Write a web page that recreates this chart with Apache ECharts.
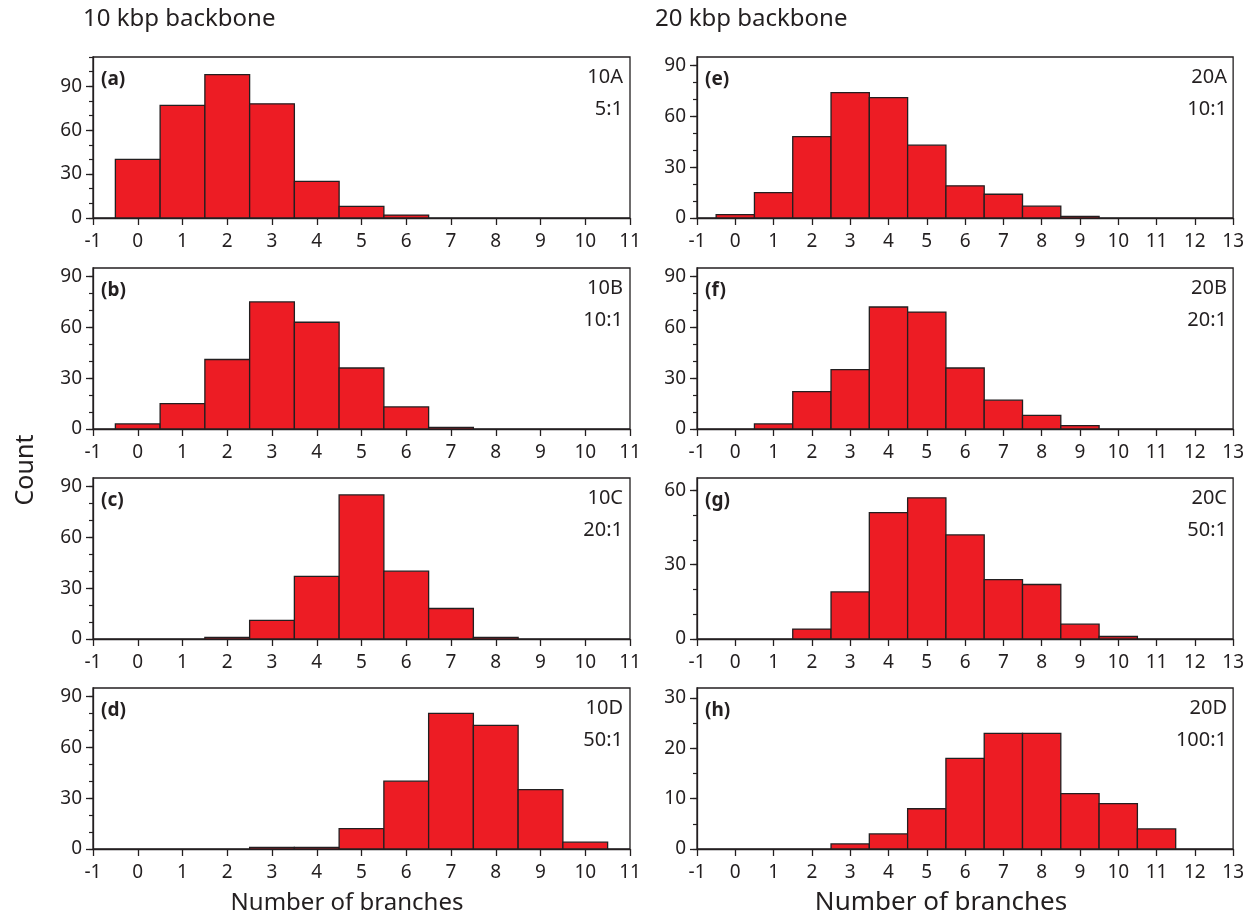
<!DOCTYPE html>
<html>
<head>
<meta charset="utf-8">
<title>Branch number distributions</title>
<script src="https://cdn.jsdelivr.net/npm/echarts@6/dist/echarts.min.js"></script>
<style>
  html, body { margin: 0; padding: 0; background: #fff; }
  #chart { width: 1247px; height: 919px; }
</style>
</head>
<body>
<div id="chart"></div>
<script>
// Branch counts per bin (number of branches), one array per construct.
const branches10 = [0, 1, 2, 3, 4, 5, 6, 7, 8, 9, 10];
const branches20 = [0, 1, 2, 3, 4, 5, 6, 7, 8, 9, 10, 11, 12];

const count10A = [40, 77, 98, 78, 25, 8, 2, 0, 0, 0, 0];
const count10B = [3, 15, 41, 75, 63, 36, 13, 1, 0, 0, 0];
const count10C = [0, 0, 1, 11, 37, 85, 40, 18, 1, 0, 0];
const count10D = [0, 0, 0, 1, 1, 12, 40, 80, 73, 35, 4];

const count20A = [2, 15, 48, 74, 71, 43, 19, 14, 7, 1, 0, 0, 0];
const count20B = [0, 3, 22, 35, 72, 69, 36, 17, 8, 2, 0, 0, 0];
const count20C = [0, 0, 4, 19, 51, 57, 42, 24, 22, 6, 1, 0, 0];
const count20D = [0, 0, 0, 1, 3, 8, 18, 23, 23, 11, 9, 4, 0];

// Tick labels
const xTicks10 = [-1, 0, 1, 2, 3, 4, 5, 6, 7, 8, 9, 10, 11];
const xTicks20 = [-1, 0, 1, 2, 3, 4, 5, 6, 7, 8, 9, 10, 11, 12, 13];
const yTicks90 = [0, 30, 60, 90];
const yTicks60 = [0, 30, 60];
const yTicks30 = [0, 10, 20, 30];

// Panel text
const panelLetters = ['(a)', '(b)', '(c)', '(d)', '(e)', '(f)', '(g)', '(h)'];
const panelNames = ['10A', '10B', '10C', '10D', '20A', '20B', '20C', '20D'];
const panelRatios = ['5:1', '10:1', '20:1', '50:1', '10:1', '20:1', '50:1', '100:1'];
const columnTitles = ['10 kbp backbone', '20 kbp backbone'];
const xAxisTitle = 'Number of branches';
const yAxisTitle = 'Count';

// ---- layout and styling ----
const FONT = '"Noto Sans", "Open Sans", sans-serif';
const INK = '#231f20';
const RED = '#ed1c24';

const colLeft = [93, 697];
const colWidth = 537;
const rowTop = [57, 268, 478, 688];
const rowHeight = 161;

const panels = [
  { col: 0, row: 0, b: branches10, c: count10A, xt: xTicks10, yMax: 110, major: yTicks90, minor: 10 },
  { col: 0, row: 1, b: branches10, c: count10B, xt: xTicks10, yMax: 95, major: yTicks90, minor: 10 },
  { col: 0, row: 2, b: branches10, c: count10C, xt: xTicks10, yMax: 95, major: yTicks90, minor: 10 },
  { col: 0, row: 3, b: branches10, c: count10D, xt: xTicks10, yMax: 95, major: yTicks90, minor: 10 },
  { col: 1, row: 0, b: branches20, c: count20A, xt: xTicks20, yMax: 95, major: yTicks90, minor: 10 },
  { col: 1, row: 1, b: branches20, c: count20B, xt: xTicks20, yMax: 95, major: yTicks90, minor: 10 },
  { col: 1, row: 2, b: branches20, c: count20C, xt: xTicks20, yMax: 65, major: yTicks60, minor: 10 },
  { col: 1, row: 3, b: branches20, c: count20D, xt: xTicks20, yMax: 32, major: yTicks30, minor: 5 }
];

const grid = [], xAxis = [], yAxis = [], series = [], graphic = [];

panels.forEach((p, i) => {
  const left = colLeft[p.col];
  const top = rowTop[p.row];
  grid.push({
    left: left, top: top, width: colWidth, height: rowHeight,
    show: true, borderColor: INK, borderWidth: 1.3, backgroundColor: 'transparent'
  });

  xAxis.push({
    type: 'value', gridIndex: i,
    min: p.xt[0], max: p.xt[p.xt.length - 1], interval: 1,
    axisLine: { show: true, onZero: false, lineStyle: { color: INK, width: 1.3 } },
    axisTick: { show: true, length: 7, lineStyle: { color: INK, width: 1.3 } },
    axisLabel: { color: INK, fontFamily: FONT, fontSize: 19, margin: 14,
                 showMinLabel: true, showMaxLabel: true },
    splitLine: { show: false }
  });

  // minor ticks
  const minorVals = [];
  for (let v = 0; v <= p.yMax; v += p.minor) minorVals.push(v);
  yAxis.push({
    type: 'value', gridIndex: i, position: 'left',
    min: 0, max: p.yMax,
    axisLine: { show: true, onZero: false, lineStyle: { color: INK, width: 1.3 } },
    axisTick: { show: true, length: 4, customValues: minorVals, lineStyle: { color: INK, width: 1.2 } },
    axisLabel: { color: INK, fontFamily: FONT, fontSize: 19, margin: 11, customValues: p.major },
    splitLine: { show: false }
  });
  // major ticks
  yAxis.push({
    type: 'value', gridIndex: i, position: 'left', offset: 0,
    min: 0, max: p.yMax,
    axisLine: { show: false, onZero: false },
    axisTick: { show: true, length: 7, customValues: p.major, lineStyle: { color: INK, width: 1.3 } },
    axisLabel: { show: false },
    splitLine: { show: false }
  });

  const data = [];
  p.b.forEach((bin, k) => { if (p.c[k] > 0) data.push([bin, p.c[k]]); });

  series.push({
    type: 'custom', xAxisIndex: i, yAxisIndex: 2 * i,
    data: data,
    renderItem: function (params, api) {
      const x = api.value(0), y = api.value(1);
      const p0 = api.coord([x - 0.5, y]);
      const p1 = api.coord([x + 0.5, 0]);
      return {
        type: 'rect',
        shape: { x: p0[0], y: p0[1], width: p1[0] - p0[0], height: p1[1] - p0[1] },
        style: { fill: RED, stroke: INK, lineWidth: 1.3 }
      };
    },
    silent: true
  });

  graphic.push({
    type: 'text', left: left + 8, top: top + 13,
    style: { text: panelLetters[i], font: 'bold 19px ' + FONT, fill: INK }
  });
  graphic.push({
    type: 'text', right: 1247 - (left + colWidth) + 7, top: top + 10,
    style: { text: panelNames[i], font: '20px ' + FONT, fill: INK, align: 'right' }
  });
  graphic.push({
    type: 'text', right: 1247 - (left + colWidth) + 7, top: top + 42,
    style: { text: panelRatios[i], font: '20px ' + FONT, fill: INK, align: 'right' }
  });
});

graphic.push({ type: 'text', left: 83, top: 7,
  style: { text: columnTitles[0], font: '24px ' + FONT, fill: INK } });
graphic.push({ type: 'text', left: 655, top: 7,
  style: { text: columnTitles[1], font: '24px ' + FONT, fill: INK } });
graphic.push({ type: 'text', x: 26, y: 470, rotation: Math.PI / 2,
  style: { text: yAxisTitle, font: '25px ' + FONT, fill: INK, align: 'center', verticalAlign: 'middle' } });
graphic.push({ type: 'text', x: 347, y: 903,
  style: { text: xAxisTitle, font: '24px ' + FONT, fill: INK, align: 'center', verticalAlign: 'middle' } });
graphic.push({ type: 'text', x: 941, y: 903,
  style: { text: xAxisTitle, font: '26px ' + FONT, fill: INK, align: 'center', verticalAlign: 'middle' } });

const chart = echarts.init(document.getElementById('chart'), null, { renderer: 'canvas' });
chart.setOption({
  animation: false,
  backgroundColor: '#ffffff',
  grid: grid,
  xAxis: xAxis,
  yAxis: yAxis,
  series: series,
  graphic: graphic
});
</script>
</body>
</html>
